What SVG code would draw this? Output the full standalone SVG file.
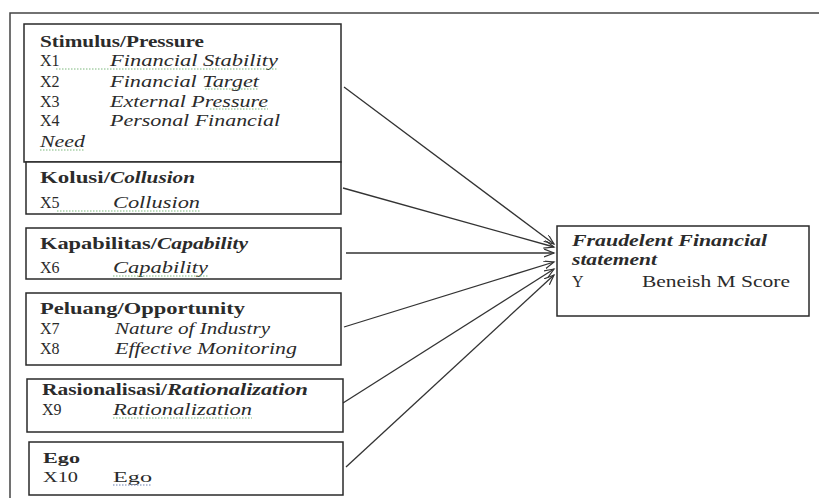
<svg xmlns="http://www.w3.org/2000/svg" width="819" height="498" viewBox="0 0 819 498">
<style>
.box{fill:#fff;stroke:#2a2a2a;stroke-width:1.5}
.frame{fill:none;stroke:#444;stroke-width:1.5}
text{font-family:"Liberation Serif","Times New Roman",serif;font-size:16px;fill:#2b2b2b}
.b{font-weight:bold}
.i{font-style:italic}
.bi{font-weight:bold;font-style:italic}
.s{font-size:14px}
.conn{stroke:#333;stroke-width:1.3;fill:none;marker-end:url(#ah)}
.sq{stroke:#7cb87c;stroke-width:1;stroke-dasharray:1.5 1.5;fill:none}
</style>
<defs>
<marker id="ah" markerWidth="12" markerHeight="10" refX="10" refY="4" orient="auto" markerUnits="userSpaceOnUse">
<path d="M0,0 L10,4 L0,8" fill="none" stroke="#333" stroke-width="1.2"/>
</marker>
</defs>
<rect width="819" height="498" fill="#fff"/>
<path class="frame" d="M10,498 L10,13 L819,13"/>

<g id="connectors">
<line class="conn" x1="344" y1="87" x2="554" y2="244"/>
<line class="conn" x1="343" y1="188" x2="554" y2="247"/>
<line class="conn" x1="346" y1="253" x2="554" y2="253"/>
<line class="conn" x1="344" y1="327" x2="554" y2="262"/>
<line class="conn" x1="343" y1="403" x2="554" y2="269"/>
<line class="conn" x1="346" y1="467" x2="554" y2="275"/>
</g>

<g id="stimulus">
<rect class="box" x="24" y="24" width="317" height="138"/>
<text class="b" x="40" y="47" textLength="164" lengthAdjust="spacingAndGlyphs">Stimulus/Pressure</text>
<text x="40" y="66">X1</text>
<text class="i" x="110" y="66" textLength="168" lengthAdjust="spacingAndGlyphs">Financial Stability</text>
<text x="40" y="87">X2</text>
<text class="i" x="110" y="87" textLength="149" lengthAdjust="spacingAndGlyphs">Financial Target</text>
<text x="40" y="107">X3</text>
<text class="i" x="110" y="107" textLength="158" lengthAdjust="spacingAndGlyphs">External Pressure</text>
<text x="40" y="126">X4</text>
<text class="i" x="110" y="126" textLength="170" lengthAdjust="spacingAndGlyphs">Personal Financial</text>
<text class="i" x="40" y="147" textLength="45" lengthAdjust="spacingAndGlyphs">Need</text>
<path class="sq" d="M56,69 L278,69 M205,89 L259,89 M210,109 L268,109 M40,150 L85,150"/>
</g>

<g id="kolusi">
<rect class="box" x="26" y="162" width="315" height="52"/>
<text class="b" x="40" y="183" textLength="70" lengthAdjust="spacingAndGlyphs">Kolusi/</text>
<text class="bi" x="110" y="183" textLength="85" lengthAdjust="spacingAndGlyphs">Collusion</text>
<text x="40" y="208">X5</text>
<text class="i" x="113" y="208" textLength="87" lengthAdjust="spacingAndGlyphs">Collusion</text>
<path class="sq" d="M57,211 L200,211"/>
</g>

<g id="kapabilitas">
<rect class="box" x="26" y="228" width="315" height="51"/>
<text class="b" x="40" y="249" textLength="117" lengthAdjust="spacingAndGlyphs">Kapabilitas/</text>
<text class="bi" x="157" y="249" textLength="91" lengthAdjust="spacingAndGlyphs">Capability</text>
<text x="40" y="273">X6</text>
<text class="i" x="113" y="273" textLength="95" lengthAdjust="spacingAndGlyphs">Capability</text>
<path class="sq" d="M113,276 L208,276"/>
</g>

<g id="peluang">
<rect class="box" x="26" y="293" width="315" height="72"/>
<text class="b" x="40" y="314" textLength="205" lengthAdjust="spacingAndGlyphs">Peluang/Opportunity</text>
<text x="40" y="334">X7</text>
<text class="i" x="115" y="334" textLength="155" lengthAdjust="spacingAndGlyphs">Nature of Industry</text>
<text x="40" y="354">X8</text>
<text class="i" x="115" y="354" textLength="182" lengthAdjust="spacingAndGlyphs">Effective Monitoring</text>
</g>

<g id="rasionalisasi">
<rect class="box" x="27" y="379" width="316" height="53"/>
<text class="b" x="42" y="395" textLength="125" lengthAdjust="spacingAndGlyphs">Rasionalisasi/</text>
<text class="bi" x="167" y="395" textLength="141" lengthAdjust="spacingAndGlyphs">Rationalization</text>
<text x="42" y="415">X9</text>
<text class="i" x="113" y="415" textLength="139" lengthAdjust="spacingAndGlyphs">Rationalization</text>
<path class="sq" d="M113,418 L252,418"/>
</g>

<g id="ego">
<rect class="box" x="29" y="442" width="314" height="53"/>
<text class="b s" x="43" y="463" textLength="37" lengthAdjust="spacingAndGlyphs">Ego</text>
<text class="s" x="43" y="482" textLength="35" lengthAdjust="spacingAndGlyphs">X10</text>
<text class="s" x="113" y="482" textLength="39" lengthAdjust="spacingAndGlyphs">Ego</text>
<path d="M113,485 L152,485" stroke="#6a7fb0" stroke-width="1" stroke-dasharray="1.5 1.5"/>
</g>

<g id="fraud">
<rect class="box" x="557" y="226" width="252" height="90"/>
<text class="bi" x="572" y="246" textLength="195" lengthAdjust="spacingAndGlyphs">Fraudelent Financial</text>
<text class="bi" x="572" y="265" textLength="85" lengthAdjust="spacingAndGlyphs">statement</text>
<text x="572" y="287">Y</text>
<text x="642" y="287" textLength="148" lengthAdjust="spacingAndGlyphs">Beneish M Score</text>
</g>
</svg>
